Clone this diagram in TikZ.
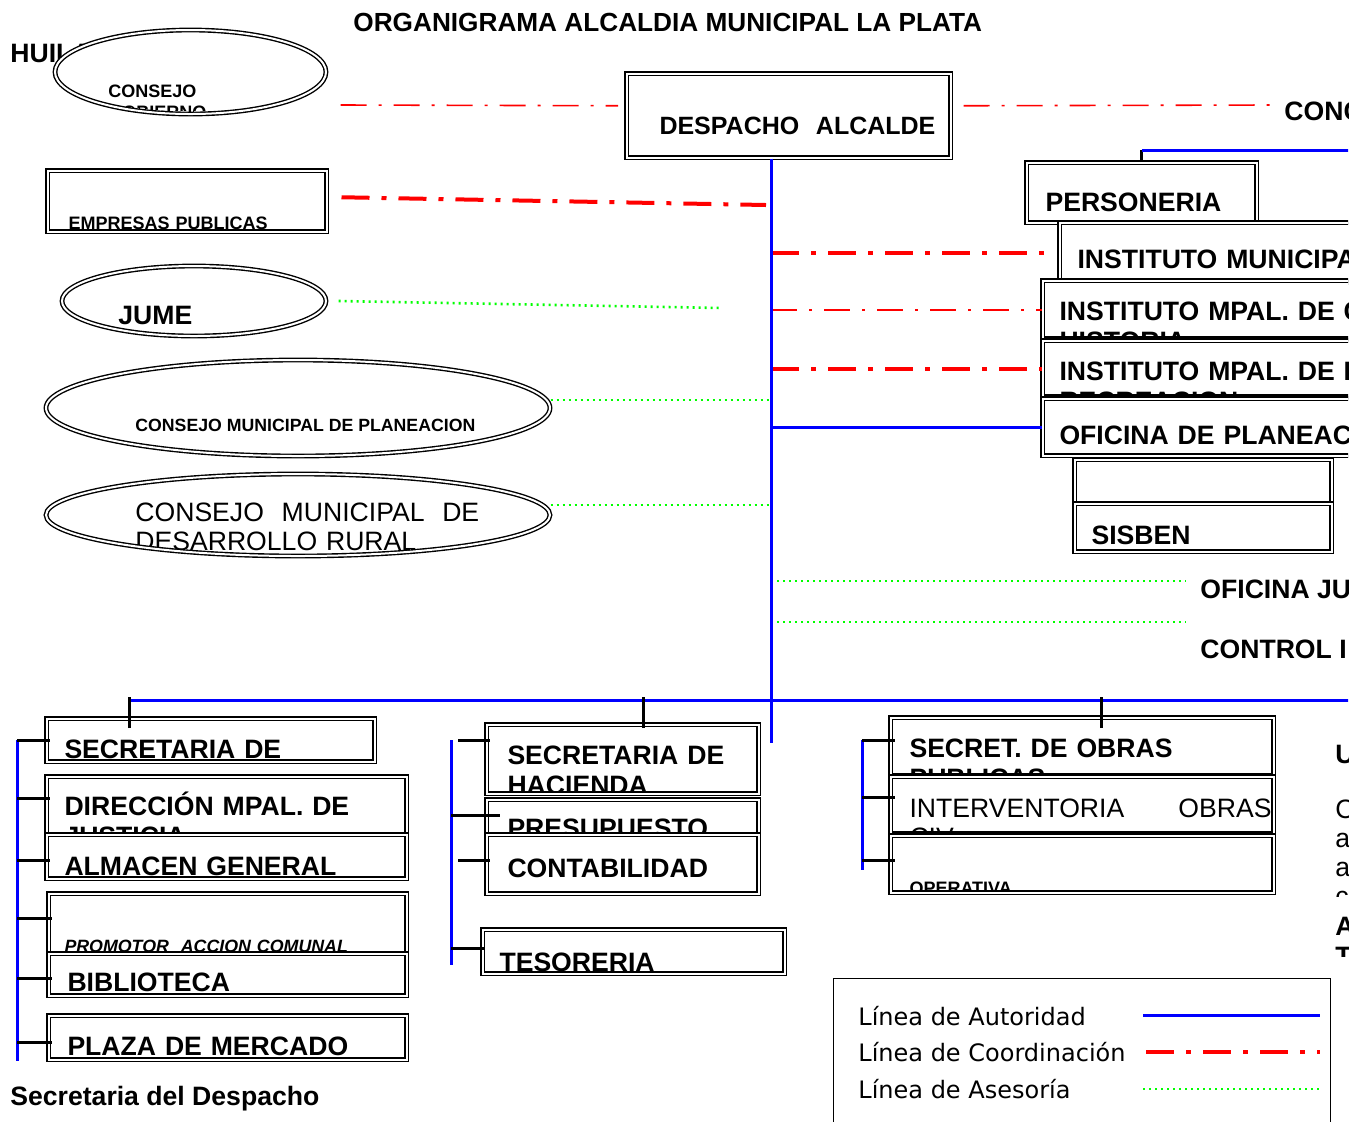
\documentclass[tikz,border=0pt]{standalone}
\usepackage{fontspec}
\setmainfont{Liberation Sans}
\newfontfamily\leyfont{DejaVu Sans}
\usepackage{tikz}
\usetikzlibrary{shapes.geometric}

\begin{document}
\begin{tikzpicture}[x=0.5pt, y=-0.5pt,
    caja/.style 2 args={draw, double, double distance=1.1pt, line width=.75pt, fill=white, inner sep=0pt, anchor=north west, minimum width=#1*0.5pt, minimum height=#2*0.5pt}, % cuadro de linea doble
    ovalo/.style 2 args={ellipse, draw, double, double distance=1pt, line width=.7pt, fill=white, inner sep=0pt, minimum width=#1*0.5pt, minimum height=#2*0.5pt}, % elipse de los consejos
    rotulo/.style n args={3}{path picture={\node[#2, anchor=base west, inner sep=0pt, text width=16cm, align=left] at ([shift={#1}]path picture bounding box.north west) {#3};}}, % texto cortado por el borde
    suelto/.style={anchor=base west, inner sep=0pt},
    titulo/.style={font=\fontsize{13.1}{15}\selectfont\bfseries},
    grande/.style={font=\fontsize{13.3}{15}\selectfont\bfseries},
    alcalde/.style={font=\fontsize{12.5}{15}\selectfont\bfseries},
    fina/.style={font=\fontsize{13.3}{14.5}\selectfont},
    chica/.style={font=\fontsize{9}{10.5}\selectfont\bfseries},
    planea/.style={font=\fontsize{8.85}{10}\selectfont\bfseries},
    promo/.style={font=\fontsize{8.9}{10}\selectfont\bfseries\itshape},
    ley/.style={font=\leyfont\fontsize{12}{14}\selectfont},
    autoridad/.style={blue, line width=1.5pt}, % linea de autoridad
    enlace/.style={black, line width=1.5pt},
    coordfina/.style={red, line width=.8pt, dash pattern=on 13pt off 6pt on 1.5pt off 6pt},
    coordgruesa/.style={red, line width=2pt, dash pattern=on 14pt off 6pt on 2.5pt off 6pt},
    asesoria/.style={green, line width=1.3pt, dash pattern=on 1pt off 2pt} % linea de asesoria
    ]

    \useasboundingbox (0,0) rectangle (1364,1121);
    \fill[white] (0,0) rectangle (1364,1121);
    \clip (0,0) rectangle (1348,1121);

    % encabezado
    \node[titulo, suelto] (titulo) at (353,31) {ORGANIGRAMA ALCALDIA MUNICIPAL LA PLATA};
    \node[grande, suelto] (huila) at (10,62) {HUILA};

    % consejos y entidades de la izquierda
    \node[ovalo={271}{84}] (gobierno) at (190.5,72) {};
    \begin{scope}
        \clip (gobierno.center) ellipse [x radius=133, y radius=39];
        \node[chica, suelto, text width=5cm, align=left] (gobierno-t) at ([shift={(-82.5,25)}]gobierno.center) {CONSEJO\\GOBIERNO};
    \end{scope}
    \node[caja={279}{61}, rotulo={(20,59)}{chica}{EMPRESAS PUBLICAS}] (empresas) at (47,170) {};
    \node[ovalo={264}{70}] (jume) at (194,301) {};
    \begin{scope}
        \clip (jume.center) ellipse [x radius=129, y radius=32];
        \node[grande, suelto] (jume-t) at ([shift={(-76,23)}]jume.center) {JUME};
    \end{scope}
    \node[ovalo={504}{96}] (planeacion) at (298,408) {};
    \begin{scope}
        \clip (planeacion.center) ellipse [x radius=249, y radius=45];
        \node[planea, suelto] (planeacion-t) at ([shift={(-163,23)}]planeacion.center) {CONSEJO MUNICIPAL DE PLANEACION};
    \end{scope}
    \node[ovalo={504}{82}] (rural) at (298,515) {};
    \begin{scope}
        \clip (rural.center) ellipse [x radius=249, y radius=38];
        \node[fina, suelto, text width=8cm, align=left] (rural-t) at ([shift={(-163,6)}]rural.center) {CONSEJO\ \ MUNICIPAL\ \ DE\\DESARROLLO RURAL};
    \end{scope}

    % despacho
    \node[caja={324}{84}, rotulo={(32,61)}{alcalde}{DESPACHO\ \ ALCALDE}] (despacho) at (626,73) {};
    \node[grande, suelto] (concejo) at (1284,120) {CONC};

    % dependencias de la derecha
    \node[caja={230}{60}, rotulo={(18,49)}{grande}{PERSONERIA}] (personeria) at (1026,162) {};
    \node[caja={340}{60}, rotulo={(17,46)}{grande}{INSTITUTO MUNICIPA}] (imun) at (1059,222) {};
    \node[caja={360}{58}, rotulo={(16,40)}{grande}{INSTITUTO MPAL. DE C\\HISTORIA}] (icultura) at (1042,280) {};
    \node[caja={360}{56}, rotulo={(16,40)}{grande}{INSTITUTO MPAL. DE D\\RECREACION}] (ideporte) at (1042,340) {};
    \node[caja={360}{57}, rotulo={(16,46)}{grande}{OFICINA DE PLANEACI}] (oplaneacion) at (1042,398) {};
    \node[caja={257}{44}] (vacio) at (1074,459) {};
    \node[caja={257}{48}, rotulo={(16,41)}{grande}{SISBEN}] (sisben) at (1074,503) {};
    \node[grande, suelto] (ojuridica) at (1200,598) {OFICINA JU};
    \node[grande, suelto] (control) at (1200,658) {CONTROL I};

    % secretaria del despacho
    \node[caja={328}{43}, rotulo={(17,40)}{grande}{SECRETARIA DE}] (sgobierno) at (46,718) {};
    \node[caja={360}{60}, rotulo={(17,39)}{grande}{DIRECCIÓN MPAL. DE\\JUSTICIA}] (justicia) at (46,776) {};
    \node[caja={360}{44}, rotulo={(17,41)}{grande}{ALMACEN GENERAL}] (almacen) at (46,834) {};
    \node[caja={358}{62}, rotulo={(15,59)}{promo}{PROMOTOR\ \ ACCION COMUNAL}] (promotor) at (48,893) {};
    \node[caja={358}{42}, rotulo={(18,38)}{grande}{BIBLIOTECA}] (biblioteca) at (48,953) {};
    \node[caja={358}{44}, rotulo={(18,40)}{grande}{PLAZA DE MERCADO}] (plaza) at (48,1015) {};
    \node[grande, suelto] (sdespacho) at (10,1105) {Secretaria del Despacho};

    % hacienda
    \node[caja={272}{69}, rotulo={(20,40)}{grande}{SECRETARIA DE\\HACIENDA}] (hacienda) at (486,724) {};
    \node[caja={272}{38}, rotulo={(20,38)}{grande}{PRESUPUESTO}] (presupuesto) at (486,799) {};
    \node[caja={272}{59}, rotulo={(20,43)}{grande}{CONTABILIDAD}] (contabilidad) at (486,834) {};
    \node[caja={302}{44}, rotulo={(16,42)}{grande}{TESORERIA}] (tesoreria) at (482,929) {};

    % obras publicas
    \node[caja={383}{58}, rotulo={(18,40)}{grande}{SECRET. DE OBRAS\\PUBLICAS}] (obras) at (890,717) {};
    \node[caja={383}{57}, rotulo={(18,41)}{fina}{\makebox[181pt][l]{INTERVENTORIA\hfill OBRAS}\\CIV}] (interventoria) at (890,776) {};
    \node[caja={383}{57}, rotulo={(18,59)}{chica}{OPERATIVA}] (operativa) at (890,835) {};

    % textos cortados al borde
    \node[grande, suelto] (unidad) at (1335,763) {U};
    \begin{scope}
        \clip (1320,780) rectangle (1364,896);
        \node[fina, suelto, text width=2cm, align=left] (parrafo) at (1335,818) {C\\a\\a\\c};
    \end{scope}
    \begin{scope}
        \clip (1320,910) rectangle (1364,956);
        \node[grande, suelto, text width=2cm, align=left] (area) at (1335,935) {A\\T};
    \end{scope}

    % lineas de coordinacion y asesoria
    \coordinate (pie) at (771,743);
    \coordinate (borde) at (1364,0);
    \draw[coordfina] ([shift={(14,33)}]gobierno.east) -- ([shift={(-8,-10)}]despacho.west);
    \draw[coordfina] ([shift={(12,-10)}]despacho.east) -- ([shift={(-14,-15)}]concejo.base west);
    \coordinate (e1) at (766,205);
    \draw[coordgruesa] ([shift={(14,-4)}]empresas.east) -- (e1);
    \coordinate (j1) at (722,308);
    \draw[asesoria] ([xshift=6pt]jume.east) -- (j1);
    \path ([yshift=4pt]planeacion.east) coordinate (p1);
    \draw[asesoria] (p1) -- (p1 -| pie);
    \path ([yshift=5pt]rural.east) coordinate (r1);
    \draw[asesoria] (r1) -- (r1 -| pie);
    \draw[coordgruesa] (imun.west -| pie) -- ([xshift=-7pt]imun.west);
    \draw[coordfina] (icultura.west -| pie) -- (icultura.west);
    \draw[coordgruesa] (ideporte.west -| pie) -- (ideporte.west);
    \path ([shift={(-14,-17)}]ojuridica.base west) coordinate (o1);
    \draw[asesoria] (o1 -| pie) -- (o1);
    \path ([shift={(-14,-36)}]control.base west) coordinate (c1);
    \draw[asesoria] (c1 -| pie) -- (c1);

    % lineas de autoridad
    \draw[autoridad] (despacho.south -| pie) -- (pie);
    \draw[autoridad] (oplaneacion.west -| pie) -- (oplaneacion.west);
    \draw[enlace] (personeria.north) -- ++(0,-12) coordinate (pt);
    \draw[autoridad] (pt) -- (pt -| borde);
    \coordinate (barra) at (128,700);
    \draw[autoridad] (barra) -- (barra -| borde);
    \draw[enlace] ([shift={(83,10)}]sgobierno.north west) -- ++(0,-31);
    \draw[enlace] ([shift={(157,4)}]hacienda.north west) -- ++(0,-31);
    \draw[enlace] ([shift={(211,11)}]obras.north west) -- ++(0,-31);

    \coordinate (izq) at (17,740);
    \draw[autoridad] (izq) -- (plaza.south -| izq);
    \foreach \n/\d in {sgobierno/0pt, justicia/4pt, almacen/-2pt, promotor/3pt, biblioteca/-2pt, plaza/-2.5pt}{
        \path ([yshift=\d]\n.west) coordinate (t\n);
        \draw[enlace] (t\n -| izq) -- ([xshift=2pt]t\n);
    }

    \coordinate (med) at (451,740);
    \coordinate (medb) at (458,740);
    \coordinate (medfin) at (451,965);
    \draw[autoridad] (med) -- (medfin);
    \foreach \n/\d/\col/\e in {hacienda/9.25pt/medb/2pt, presupuesto/1.5pt/med/7pt, contabilidad/1.75pt/medb/2pt, tesoreria/1.5pt/med/1pt}{
        \path ([yshift=\d]\n.west) coordinate (t\n);
        \draw[enlace] (t\n -| \col) -- ([xshift=\e]t\n);
    }

    \coordinate (der) at (862,740);
    \coordinate (derfin) at (862,870);
    \draw[autoridad] (der) -- (derfin);
    \foreach \n/\d in {obras/3pt, interventoria/3.75pt, operativa/1.75pt}{
        \path ([yshift=\d]\n.west) coordinate (t\n);
        \draw[enlace] (t\n -| der) -- ([xshift=2.5pt]t\n);
    }

    % convenciones
    \node[draw, line width=.7pt, inner sep=0pt, anchor=north west, minimum width=497*0.5pt, minimum height=200*0.5pt] (leyenda) at (833,978) {};
    \node[ley, suelto] (l1) at (858,1025) {Línea de Autoridad};
    \node[ley, suelto] (l2) at (858,1061) {Línea de Coordinación};
    \node[ley, suelto] (l3) at (858,1098) {Línea de Asesoría};
    \draw[autoridad] ([shift={(285,-10)}]l1.base west) -- ++(177,0);
    \draw[coordgruesa] ([shift={(288,-9)}]l2.base west) -- ++(174,0);
    \draw[asesoria] ([shift={(285,-9)}]l3.base west) -- ++(177,0);

\end{tikzpicture}
\end{document}
